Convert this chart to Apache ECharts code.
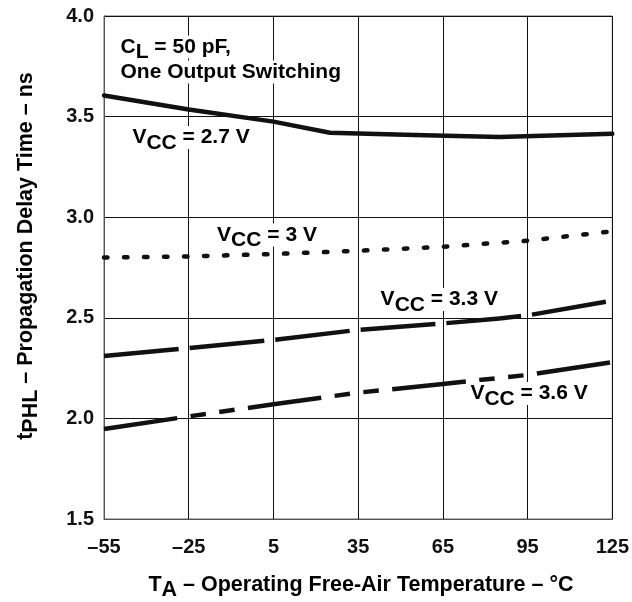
<!DOCTYPE html>
<html>
<head>
<meta charset="utf-8">
<script src="https://cdn.jsdelivr.net/npm/echarts@6/dist/echarts.min.js"></script>
<style>
  html, body { margin: 0; padding: 0; background: #fff; }
  #chart { width: 632px; height: 602px; }
</style>
</head>
<body>
<div id="chart"></div>
<script>
// Axis ticks
const tempTicks = [-55, -25, 5, 35, 65, 95, 125];
const delayTicks = [1.5, 2.0, 2.5, 3.0, 3.5, 4.0];

// Propagation delay (ns) vs free-air temperature (°C), one curve per supply voltage
const temp27 = [-55, -25, 5, 25, 55, 85, 125];
const tphl27 = [3.605, 3.535, 3.475, 3.42, 3.408, 3.398, 3.415];

const temp30 = [-55, -25, 5, 35, 65, 95, 125];
const tphl30 = [2.80, 2.805, 2.817, 2.833, 2.853, 2.883, 2.93];

const temp33 = [-55, -25, 5, 35, 65, 85, 95, 125];
const tphl33 = [2.31, 2.35, 2.39, 2.44, 2.472, 2.497, 2.512, 2.585];

const temp36 = [-55, -25, 5, 35, 65, 95, 125];
const tphl36 = [1.947, 2.01, 2.07, 2.128, 2.171, 2.216, 2.28];

// Curve annotations: text and anchor (left edge, text middle) in data units
const noteTexts = [
  '{m|C}{s|L}{m| = 50 pF,}',
  '{m|One Output Switching}',
  '{m|V}{s|CC}{m| = 2.7 V}',
  '{m|V}{s|CC}{m| = 3 V}',
  '{m|V}{s|CC}{m| = 3.3 V}',
  '{m|V}{s|CC}{m| = 3.6 V}'
];
const noteTemps = [-49.5, -49.5, -45.3, -15.3, 42.6, 74.4];
const noteDelays = [3.846, 3.722, 3.396, 2.912, 2.591, 2.124];

const FONT = "'Liberation Sans', Arial, Helvetica, sans-serif";
const INK = '#111';

// The temperature axis starts at -55 °C; the axis runs in degrees above that
// start so the 30 °C grid steps line up with the first tick.
const T0 = tempTicks[0];

function richStyles(size) {
  return {
    m: { fontSize: size, fontWeight: 'bold', fontFamily: FONT, color: INK, lineHeight: size },
    s: { fontSize: size, fontWeight: 'bold', fontFamily: FONT, color: INK, lineHeight: size, padding: [11, 0, 0, 0] }
  };
}

function pairs(xs, ys) {
  return xs.map((x, i) => [x - T0, ys[i]]);
}

const chart = echarts.init(document.getElementById('chart'), null, { renderer: 'canvas' });

const lineBase = { type: 'line', showSymbol: false, symbol: 'none', silent: true, animation: false, z: 3 };

chart.setOption({
  animation: false,
  backgroundColor: '#fff',
  grid: {
    left: 104, right: 18, top: 16, bottom: 83,
    show: true, borderColor: '#666', borderWidth: 1, backgroundColor: 'transparent'
  },
  xAxis: {
    type: 'value',
    min: 0,
    max: tempTicks[tempTicks.length - 1] - T0,
    interval: tempTicks[1] - tempTicks[0],
    axisLine: { show: true, lineStyle: { color: '#555', width: 1 } },
    axisTick: { show: false },
    splitLine: { show: true, lineStyle: { color: INK, width: 1 } },
    axisLabel: {
      margin: 18,
      color: INK, fontSize: 20, fontWeight: 'bold', fontFamily: FONT,
      formatter: v => String(Math.round(v + T0)).replace('-', '\u2013')
    }
  },
  yAxis: {
    type: 'value',
    min: delayTicks[0],
    max: delayTicks[delayTicks.length - 1],
    interval: delayTicks[1] - delayTicks[0],
    axisLine: { show: true, lineStyle: { color: '#555', width: 1 } },
    axisTick: { show: false },
    splitLine: { show: true, lineStyle: { color: INK, width: 1 } },
    axisLabel: {
      margin: 10,
      color: INK, fontSize: 20, fontWeight: 'bold', fontFamily: FONT,
      formatter: v => v.toFixed(1)
    }
  },
  series: [
    Object.assign({}, lineBase, {
      name: 'VCC = 2.7 V',
      data: pairs(temp27, tphl27),
      lineStyle: { color: INK, width: 4.5, type: 'solid', cap: 'round', join: 'round' }
    }),
    Object.assign({}, lineBase, {
      name: 'VCC = 3 V',
      data: pairs(temp30, tphl30),
      lineStyle: { color: INK, width: 4.5, type: [3.5, 16.5], cap: 'round', join: 'round' }
    }),
    Object.assign({}, lineBase, {
      name: 'VCC = 3.3 V',
      data: pairs(temp33, tphl33),
      lineStyle: { color: INK, width: 4.5, type: [75, 11], cap: 'butt', join: 'round' }
    }),
    Object.assign({}, lineBase, {
      name: 'VCC = 3.6 V',
      data: pairs(temp36, tphl36),
      lineStyle: { color: INK, width: 4.5, type: [74, 13.5, 15.5, 13.5, 15.5, 13.5], cap: 'butt', join: 'round' }
    })
  ]
});

// Annotations and axis titles, placed through the grid's coordinate system
const noteRich = richStyles(21);
const titleRich = richStyles(21.5);

const graphics = noteTexts.map((txt, i) => {
  const p = chart.convertToPixel({ gridIndex: 0 }, [noteTemps[i] - T0, noteDelays[i]]);
  return {
    type: 'text',
    x: p[0], y: p[1], z: 10,
    style: {
      text: txt, rich: noteRich,
      align: 'left', verticalAlign: 'middle',
      backgroundColor: '#fff', padding: [1, 1, 1, 1]
    }
  };
});

graphics.push({
  type: 'text',
  x: 361, y: 585, z: 10,
  style: {
    text: '{m|T}{s|A}{m| \u2013 Operating Free-Air Temperature \u2013 \u00B0C}',
    rich: titleRich, align: 'center', verticalAlign: 'middle'
  }
});

graphics.push({
  type: 'text',
  x: 26, y: 256, z: 10, rotation: Math.PI / 2,
  style: {
    text: '{m|t}{s|PHL}{m| \u2013 Propagation Delay Time \u2013 ns}',
    rich: titleRich, align: 'center', verticalAlign: 'middle'
  }
});

chart.setOption({ graphic: graphics });
</script>
</body>
</html>
